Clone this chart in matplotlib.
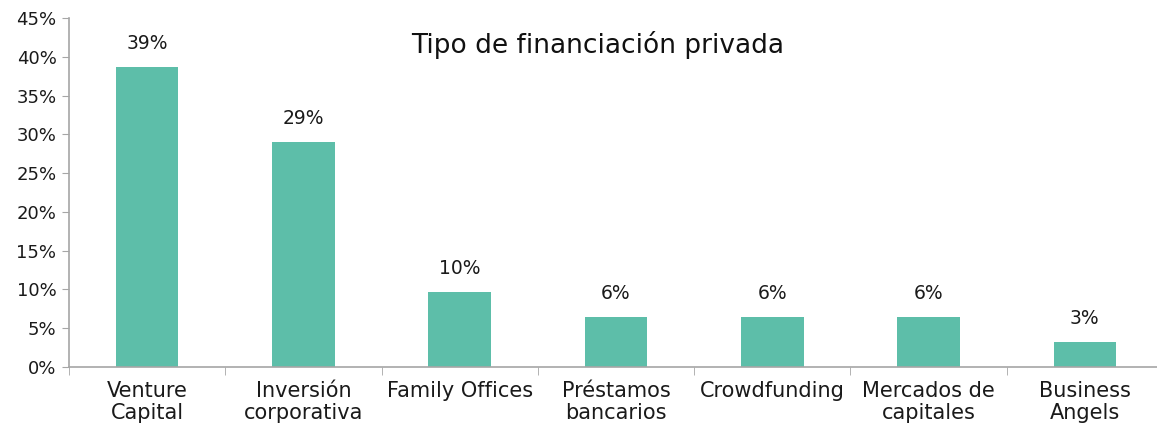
import matplotlib.pyplot as plt
from matplotlib.ticker import PercentFormatter

# Datos: tipo de financiación privada (respuestas sobre 31)
categorias = ["Venture\nCapital", "Inversión\ncorporativa", "Family Offices",
              "Préstamos\nbancarios", "Crowdfunding", "Mercados de\ncapitales",
              "Business\nAngels"]
valores = [12/31, 9/31, 3/31, 2/31, 2/31, 2/31, 1/31]
etiquetas = ["39%", "29%", "10%", "6%", "6%", "6%", "3%"]

plt.rcParams['font.family'] = ['DejaVu Sans']

fig = plt.figure(figsize=(11.57, 4.32), dpi=100)
ax = fig.add_axes([69/1157, 1 - 367/432, 1094/1157, 349/432])

x = list(range(len(categorias)))
bars = ax.bar(x, valores, width=0.4, color='#5dbea9')

for b, t in zip(bars, etiquetas):
    ax.annotate(t, (b.get_x() + b.get_width()/2, b.get_height()),
                xytext=(0, 10), textcoords='offset points',
                ha='center', va='bottom', fontsize=13.5, color='#1a1a1a')

ax.set_xlim(-0.5, len(categorias) - 0.5)
ax.set_ylim(0, 0.45)
ax.set_yticks([i*0.05 for i in range(10)])
ax.yaxis.set_major_formatter(PercentFormatter(1.0, decimals=0))

ax.set_xticks(x)
ax.set_xticklabels(categorias, fontsize=15, color='#1a1a1a', linespacing=1.15)
ax.set_xticks([i + 0.5 for i in range(-1, len(categorias))], minor=True)
ax.tick_params(axis='x', which='major', length=0, pad=10)
ax.tick_params(axis='x', which='minor', length=6, color='#a6a6a6', direction='out')
ax.tick_params(axis='y', length=5, color='#a6a6a6', labelsize=13, labelcolor='#1a1a1a', pad=4)

for s in ['top', 'right']:
    ax.spines[s].set_visible(False)
for s in ['left', 'bottom']:
    ax.spines[s].set_color('#a6a6a6')
    ax.spines[s].set_linewidth(1.2)

fig.text(598/1157, 1 - 45/432, "Tipo de financiación privada", ha='center', va='center',
         fontsize=19, color='#111111')

fig.savefig('out.png', dpi=100)
